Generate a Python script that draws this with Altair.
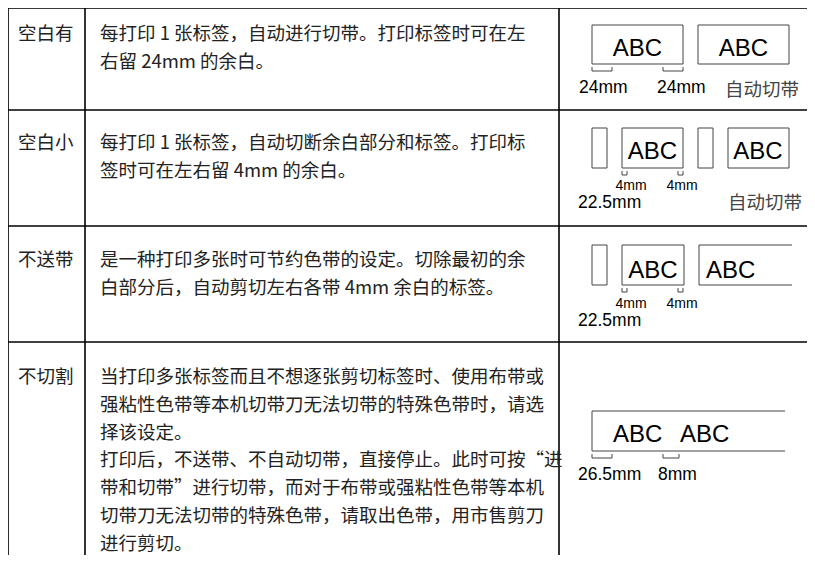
import altair as alt
import pandas as pd

# ---------------- content ----------------
names = ["空白有", "空白小", "不送带", "不切割"]

desc_lines = [
    ["每打印 1 张标签，自动进行切带。打印标签时可在左",
     "右留 24mm 的余白。"],
    ["每打印 1 张标签，自动切断余白部分和标签。打印标",
     "签时可在左右留 4mm 的余白。"],
    ["是一种打印多张时可节约色带的设定。切除最初的余",
     "白部分后，自动剪切左右各带 4mm 余白的标签。"],
    ["当打印多张标签而且不想逐张剪切标签时、使用布带或",
     "强粘性色带等本机切带刀无法切带的特殊色带时，请选",
     "择该设定。",
     "打印后，不送带、不自动切带，直接停止。此时可按“进",
     "带和切带”进行切带，而对于布带或强粘性色带等本机",
     "切带刀无法切带的特殊色带，请取出色带，用市售剪刀",
     "进行剪切。"],
]

abc_text = ["ABC", "ABC", "ABC", "ABC", "ABC", "ABC", "ABC", "ABC"]
mm_text = ["24mm", "24mm", "22.5mm", "22.5mm", "26.5mm", "8mm"]
narrow_text = ["4mm", "4mm", "4mm", "4mm"]
cut_text = ["自动切带", "自动切带"]

# ---------------- layout ----------------
X0, X1 = 8, 807
Y0, Y1 = 8, 555
W, H = X1 - X0, Y1 - Y0

row_lines = [8, 110, 226, 342]
col_lines = [8, 85, 559]
row_text_y = [33, 142, 259, 376]
line_gap = 27.8
name_x = 18
desc_x = 100

boxes = [(592, 683, 25, 64), (698, 789, 25, 64),
         (592, 607, 128, 168), (622, 683, 128, 168),
         (698, 713, 128, 168), (728, 789, 128, 168),
         (592, 607, 245, 285), (622, 684, 245, 285)]
open_boxes = [(699, 792, 245, 285), (592, 785, 411, 451)]
brackets = [(592, 612, 67, 71), (663, 683, 67, 71),
            (622, 627, 171, 175), (678, 683, 171, 175),
            (622, 627, 288, 292), (678, 683, 288, 292),
            (592, 612, 454, 458), (663, 679, 454, 458)]

abc_pos = [(637.5, 56, "center"), (743.5, 56, "center"),
           (652.5, 159, "center"), (758, 159, "center"),
           (653, 278, "center"), (706, 278, "left"),
           (613, 442, "left"), (680, 442, "left")]
mm_pos = [(579, 93), (657, 93), (578, 208), (578, 326), (578, 480), (658, 480)]
narrow_pos = [(631, 190), (682, 190), (631, 308), (682, 308)]
cut_pos = [(725, 89), (728, 202)]

# ---------------- tables ----------------
tl = []
for y in row_lines:
    tl.append(dict(x=X0, x2=X1 + 10, y=y, y2=y))
for x in col_lines:
    tl.append(dict(x=x, x2=x, y=Y0, y2=Y1 + 10))
table_df = pd.DataFrame(tl)

seg = []
for (a, b, t, btm) in open_boxes:
    seg += [dict(x=a, x2=b, y=t, y2=t), dict(x=a, x2=b, y=btm, y2=btm),
            dict(x=a, x2=a, y=t, y2=btm)]
for (a, b, t, btm) in brackets:
    seg += [dict(x=a, x2=a, y=t, y2=btm), dict(x=a, x2=b, y=btm, y2=btm),
            dict(x=b, x2=b, y=t, y2=btm)]
seg_df = pd.DataFrame(seg)
box_df = pd.DataFrame([dict(x=a, x2=b, y=t, y2=btm) for (a, b, t, btm) in boxes])

name_df = pd.DataFrame(dict(x=[name_x] * 4, y=row_text_y, t=names))
dl = []
for i, lines in enumerate(desc_lines):
    for j, s in enumerate(lines):
        dl.append(dict(x=desc_x, y=row_text_y[i] + j * line_gap, t=s))
desc_df = pd.DataFrame(dl)

abc_df = pd.DataFrame([dict(x=p[0], y=p[1], a=p[2], t=s) for p, s in zip(abc_pos, abc_text)])
mm_df = pd.DataFrame([dict(x=p[0], y=p[1], t=s) for p, s in zip(mm_pos, mm_text)])
nar_df = pd.DataFrame([dict(x=p[0], y=p[1], t=s) for p, s in zip(narrow_pos, narrow_text)])
cut_df = pd.DataFrame([dict(x=p[0], y=p[1], t=s) for p, s in zip(cut_pos, cut_text)])

xs = alt.Scale(domain=[X0, X1], nice=False, zero=False)
ys = alt.Scale(domain=[Y0, Y1], nice=False, zero=False, reverse=True)
X = lambda f="x": alt.X(f"{f}:Q", scale=xs, axis=None)
Y = lambda f="y": alt.Y(f"{f}:Q", scale=ys, axis=None)

CJK = "Noto Sans CJK SC"
LAT = "Liberation Sans"

table = alt.Chart(table_df).mark_rule(color="#000", strokeWidth=1.6).encode(
    x=X(), x2="x2:Q", y=Y(), y2="y2:Q")
segs = alt.Chart(seg_df).mark_rule(color="#444", strokeWidth=1).encode(
    x=X(), x2="x2:Q", y=Y(), y2="y2:Q")
rects = alt.Chart(box_df).mark_rect(fill="white", fillOpacity=0, stroke="#444", strokeWidth=1).encode(
    x=X(), x2="x2:Q", y=Y(), y2="y2:Q")

names_l = alt.Chart(name_df).mark_text(font=CJK, fontSize=18.5, align="left", baseline="middle",
                                       color="#222", dy=1).encode(x=X(), y=Y(), text="t:N")
desc_l = alt.Chart(desc_df).mark_text(font=CJK, fontSize=18.5, align="left", baseline="middle",
                                      color="#222", dy=1).encode(x=X(), y=Y(), text="t:N")
abc_c = alt.Chart(abc_df[abc_df.a == "center"]).mark_text(font=LAT, fontSize=24, align="center",
                                                          baseline="alphabetic", color="#000").encode(
    x=X(), y=Y(), text="t:N")
abc_lft = alt.Chart(abc_df[abc_df.a == "left"]).mark_text(font=LAT, fontSize=24, align="left",
                                                          baseline="alphabetic", color="#000").encode(
    x=X(), y=Y(), text="t:N")
mm_l = alt.Chart(mm_df).mark_text(font=LAT, fontSize=17.5, align="left", baseline="alphabetic",
                                  color="#000").encode(x=X(), y=Y(), text="t:N")
nar_l = alt.Chart(nar_df).mark_text(font=LAT, fontSize=14, align="center",
                                    baseline="alphabetic", color="#000").encode(x=X(), y=Y(), text="t:N")
cut_l = alt.Chart(cut_df).mark_text(font=CJK, fontSize=18.5, align="left", baseline="middle",
                                    color="#444", dy=1).encode(x=X(), y=Y(), text="t:N")

chart = alt.layer(table, segs, rects, names_l, desc_l, abc_c, abc_lft, mm_l, nar_l, cut_l).properties(
    width=W, height=H, padding=0, autosize=alt.AutoSizeParams(type="none")
).configure_view(strokeWidth=0).configure(background="white")

chart.save("out.html", embed_options={"renderer": "svg", "actions": False})
